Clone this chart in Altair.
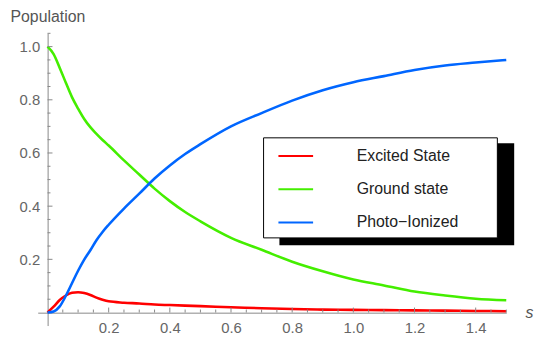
import altair as alt
import pandas as pd

# ---- data ----
s_vals = [0, 0.02, 0.04, 0.06, 0.08, 0.10, 0.12, 0.14, 0.16, 0.18, 0.20, 0.25, 0.30,
          0.35, 0.40, 0.45, 0.50, 0.60, 0.70, 0.80, 0.90, 1.0, 1.1, 1.2, 1.3, 1.4, 1.5]
excited = [0, 0.022, 0.047, 0.064, 0.074, 0.076, 0.073, 0.066, 0.056, 0.048, 0.042, 0.037, 0.034,
           0.030, 0.028, 0.026, 0.024, 0.020, 0.016, 0.013, 0.011, 0.010, 0.009, 0.008, 0.007, 0.006, 0.005]
ground = [1.0, 0.972, 0.920, 0.864, 0.810, 0.767, 0.728, 0.697, 0.672, 0.649, 0.628, 0.572, 0.519,
          0.466, 0.419, 0.378, 0.343, 0.281, 0.236, 0.191, 0.155, 0.124, 0.102, 0.079, 0.064, 0.052, 0.046]
ionized = [0, 0.004, 0.023, 0.063, 0.110, 0.157, 0.199, 0.234, 0.272, 0.303, 0.330, 0.391, 0.447,
           0.504, 0.553, 0.596, 0.633, 0.700, 0.750, 0.797, 0.836, 0.866, 0.889, 0.912, 0.929, 0.940, 0.950]

series_names = ["Excited State", "Ground state", "Photo\u2212Ionized"]
series_colors = ["#ff0000", "#44ee00", "#0066ff"]

x_labels = [0.2, 0.4, 0.6, 0.8, 1.0, 1.2, 1.4]
y_labels = [0.2, 0.4, 0.6, 0.8, 1.0]
x_minor = [0.05, 0.1, 0.15, 0.25, 0.3, 0.35, 0.45, 0.5, 0.55, 0.65, 0.7, 0.75, 0.85, 0.9, 0.95,
           1.05, 1.1, 1.15, 1.25, 1.3, 1.35, 1.45, 1.5]
y_minor = [0.05, 0.1, 0.15, 0.25, 0.3, 0.35, 0.45, 0.5, 0.55, 0.65, 0.7, 0.75, 0.85, 0.9, 0.95, 1.05]

FONT = "Liberation Sans"

rows = []
for name, vals in zip(series_names, [excited, ground, ionized]):
    for s, v in zip(s_vals, vals):
        rows.append({"s": s, "value": v, "series": name})
df = pd.DataFrame(rows)

xscale = alt.Scale(domain=[-0.032, 1.5], nice=False, zero=False)
yscale = alt.Scale(domain=[-0.049, 1.05], nice=False, zero=False)

x_axis = alt.Axis(values=x_labels, format=".1f", offset=-13, labelPadding=8,
                  ticks=False, grid=False, domainColor="#888888", domainWidth=1,
                  labelFont=FONT, labelFontSize=15, labelColor="#666666",
                  labelFlush=False, labelOverlap=False,
                  title="s", titleFont=FONT, titleFontSize=16, titleFontStyle="italic",
                  titleFontWeight="normal", titleColor="#555555",
                  titleX=496, titleY=5, titleAlign="center", titleBaseline="alphabetic")
y_axis = alt.Axis(values=y_labels, format=".1f", offset=-10, labelPadding=8,
                  ticks=False, grid=False, domainColor="#888888", domainWidth=1,
                  labelFont=FONT, labelFontSize=15, labelColor="#666666",
                  labelFlush=False, labelOverlap=False,
                  title="Population", titleFont=FONT, titleFontSize=16,
                  titleFontWeight="normal", titleColor="#555555", titleAngle=0,
                  titleX=-38, titleY=-12, titleAlign="left", titleBaseline="alphabetic")

lines = alt.Chart(df).mark_line(strokeWidth=2.6, interpolate="monotone").encode(
    x=alt.X("s:Q", scale=xscale, axis=x_axis),
    y=alt.Y("value:Q", scale=yscale, axis=y_axis),
    color=alt.Color("series:N", sort=series_names,
                    scale=alt.Scale(domain=series_names, range=series_colors),
                    legend=alt.Legend(orient="none", legendX=242, legendY=105.4, title=None,
                                      symbolType="stroke", symbolSize=1225, symbolStrokeWidth=2,
                                      labelFont=FONT, labelFontSize=16, labelColor="#222222",
                                      labelOffset=43, rowPadding=6.5, padding=0)),
)

# inward axis ticks
xt_rows = [{"s": v, "zero": 0, "len": 0.0186} for v in x_labels] + \
          [{"s": v, "zero": 0, "len": 0.0112} for v in x_minor]
yt_rows = [{"v": v, "zero": 0, "len": 0.0162} for v in y_labels] + \
          [{"v": v, "zero": 0, "len": 0.0097} for v in y_minor]

xticks = alt.Chart(pd.DataFrame(xt_rows)).mark_rule(color="#888888", strokeWidth=1).encode(
    x=alt.X("s:Q", scale=xscale, axis=x_axis),
    y=alt.Y("zero:Q", scale=yscale, axis=y_axis),
    y2="len:Q",
)
yticks = alt.Chart(pd.DataFrame(yt_rows)).mark_rule(color="#888888", strokeWidth=1).encode(
    y=alt.Y("v:Q", scale=yscale, axis=y_axis),
    x=alt.X("zero:Q", scale=xscale, axis=x_axis),
    x2="len:Q",
)

one = pd.DataFrame({"k": [0]})
shadow = alt.Chart(one).mark_rect(fill="black").encode(
    x=alt.value(244), x2=alt.value(481), y=alt.value(111), y2=alt.value(214))
box = alt.Chart(one).mark_rect(fill="white", stroke="black", strokeWidth=1).encode(
    x=alt.value(228), x2=alt.value(464), y=alt.value(105.5), y2=alt.value(206.5))

chart = alt.layer(lines, xticks, yticks, shadow, box).properties(
    width=473, height=295,
    autosize=alt.AutoSizeParams(type="none"),
    padding={"left": 30, "top": 24, "right": 28, "bottom": 10},
).configure(background="white", view=alt.ViewConfig(stroke=None))

chart.save("out.html", embed_options={"renderer": "svg", "actions": False})
